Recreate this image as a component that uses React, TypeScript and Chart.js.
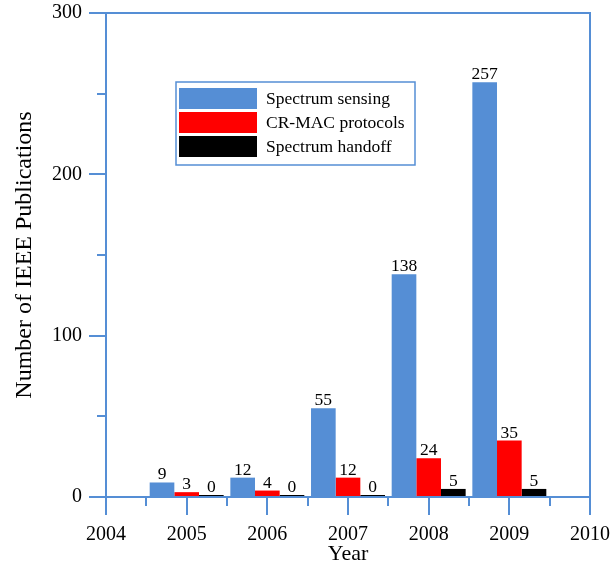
import React, { useEffect, useRef } from "react";
import { Chart, registerables } from "chart.js";

Chart.register(...registerables);

const years = [2005, 2006, 2007, 2008, 2009];
const spectrumSensing = [9, 12, 55, 138, 257];
const crMacProtocols = [3, 4, 12, 24, 35];
const spectrumHandoff = [0, 0, 0, 5, 5];
const seriesLabels = ["Spectrum sensing", "CR-MAC protocols", "Spectrum handoff"];
const seriesColors = ["#558ed5", "#ff0000", "#000000"];
const xRange = [2004, 2010];
const yRange = [0, 300];
const yMinorTicks = [50, 150, 250];
const xMinorTicks = [2004.5, 2005.5, 2006.5, 2007.5, 2008.5, 2009.5];
const xTitle = "Year";
const yTitle = "Number of IEEE Publications";

const AXIS = "#558ed5";
const FONT = '"Liberation Serif", "Times New Roman", serif';

const framePlugin = {
  id: "frame",
  beforeDatasetsDraw(chart: any) {
    const { ctx, chartArea } = chart;
    ctx.save();
    ctx.strokeStyle = AXIS;
    ctx.lineWidth = 2;
    ctx.beginPath();
    ctx.moveTo(chartArea.left, chartArea.top);
    ctx.lineTo(chartArea.right, chartArea.top);
    ctx.lineTo(chartArea.right, chartArea.bottom);
    ctx.stroke();
    const ys = chart.scales.y;
    const xs = chart.scales.x;
    ctx.beginPath();
    yMinorTicks.forEach((v) => {
      const py = Math.round(ys.getPixelForValue(v));
      ctx.moveTo(chartArea.left - 9, py);
      ctx.lineTo(chartArea.left, py);
    });
    xMinorTicks.forEach((v) => {
      const px = Math.round(xs.getPixelForValue(v));
      ctx.moveTo(px, chartArea.bottom);
      ctx.lineTo(px, chartArea.bottom + 9);
    });
    ctx.stroke();
    ctx.restore();
  },
};

const valueLabelPlugin = {
  id: "valueLabels",
  afterDatasetsDraw(chart: any) {
    const { ctx } = chart;
    ctx.save();
    ctx.font = `17.5px ${FONT}`;
    ctx.fillStyle = "#000";
    ctx.textAlign = "center";
    ctx.textBaseline = "alphabetic";
    chart.data.datasets.forEach((ds: any, di: number) => {
      const meta = chart.getDatasetMeta(di);
      meta.data.forEach((el: any, i: number) => {
        const v = ds.data[i].y;
        ctx.fillText(String(v), el.x, el.y - 3);
      });
    });
    ctx.restore();
  },
};

const legendPlugin = {
  id: "boxLegend",
  afterDraw(chart: any) {
    const { ctx, chartArea } = chart;
    const left = chartArea.left + 70;
    const top = chartArea.top + 69;
    const w = 239;
    const h = 83;
    ctx.save();
    ctx.strokeStyle = AXIS;
    ctx.lineWidth = 1.5;
    ctx.fillStyle = "#fff";
    ctx.fillRect(left, top, w, h);
    ctx.strokeRect(left, top, w, h);
    ctx.font = `17.5px ${FONT}`;
    ctx.textBaseline = "middle";
    ctx.textAlign = "left";
    chart.data.datasets.forEach((ds: any, i: number) => {
      const ry = top + 6 + i * 24;
      ctx.fillStyle = ds.backgroundColor;
      ctx.fillRect(left + 3, ry, 78, 21);
      ctx.fillStyle = "#000";
      ctx.fillText(ds.label, left + 90, ry + 11);
    });
    ctx.restore();
  },
};

export default function App() {
  const ref = useRef<HTMLCanvasElement | null>(null);

  useEffect(() => {
    if (!ref.current) return;
    const series = [spectrumSensing, crMacProtocols, spectrumHandoff];
    const chart = new Chart(ref.current, {
      type: "bar",
      data: {
        datasets: series.map((vals, si) => ({
          label: seriesLabels[si],
          data: years.map((yr, i) => ({ x: yr, y: vals[i] })),
          backgroundColor: seriesColors[si],
          borderWidth: 0,
          minBarLength: 2,
          categoryPercentage: 0.917,
          barPercentage: 1.0,
        })),
      },
      options: {
        animation: false,
        responsive: false,
        events: [],
        layout: { padding: { left: 0, top: 13, right: 22, bottom: 0 } },
        plugins: { legend: { display: false }, tooltip: { enabled: false } },
        scales: {
          x: {
            type: "linear",
            min: xRange[0],
            max: xRange[1],
            offset: false,
            afterFit: (s: any) => {
              s.height = 70;
              s.paddingLeft = 0;
              s.paddingRight = 0;
            },
            ticks: {
              stepSize: 1,
              padding: 8,
              color: "#000",
              font: { family: FONT, size: 20 },
              callback: (v: any) => String(v),
              maxRotation: 0,
            },
            grid: {
              offset: false,
              drawOnChartArea: false,
              color: AXIS,
              tickColor: AXIS,
              tickLength: 18,
              lineWidth: 2,
              tickWidth: 2,
            },
            border: { display: true, color: AXIS, width: 2 },
            title: {
              display: true,
              text: xTitle,
              color: "#000",
              font: { family: FONT, size: 22 },
              padding: { top: 0, bottom: 0 },
            },
          },
          y: {
            min: yRange[0],
            max: yRange[1],
            afterFit: (s: any) => {
              s.width = 106;
              s.paddingTop = 0;
              s.paddingBottom = 0;
            },
            ticks: {
              stepSize: 100,
              padding: 7,
              color: "#000",
              font: { family: FONT, size: 20 },
            },
            grid: {
              drawOnChartArea: false,
              color: AXIS,
              tickColor: AXIS,
              tickLength: 17,
              lineWidth: 2,
              tickWidth: 2,
            },
            border: { display: true, color: AXIS, width: 2 },
            title: {
              display: true,
              text: yTitle,
              color: "#000",
              font: { family: FONT, size: 24 },
              padding: { top: 10, bottom: 0 },
            },
          },
        },
      },
      plugins: [framePlugin, valueLabelPlugin, legendPlugin],
    } as any);
    return () => chart.destroy();
  }, []);

  return (
    <div style={{ position: "absolute", left: 0, top: 0, width: 612, height: 567, background: "#fff" }}>
      <canvas ref={ref} width={612} height={567} style={{ display: "block" }} />
    </div>
  );
}
